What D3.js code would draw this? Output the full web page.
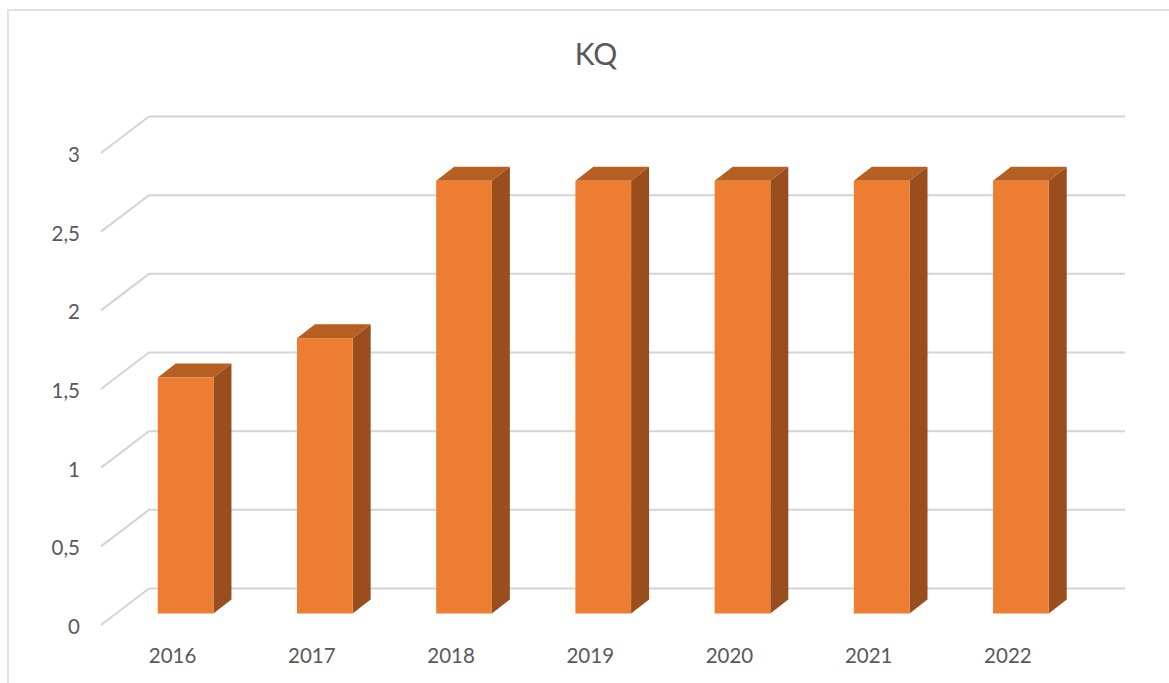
<!DOCTYPE html>
<html>
<head>
<meta charset="utf-8">
<script src="https://cdn.jsdelivr.net/npm/d3@7"></script>
<style>
  html, body { margin: 0; padding: 0; background: #fff; }
  svg { display: block; }
  text { font-family: Lato, "Open Sans", sans-serif; fill: #595959; }
</style>
</head>
<body>
<svg id="chart" width="1169" height="683"></svg>
<script>
const title = "KQ";
const categories = ["2016", "2017", "2018", "2019", "2020", "2021", "2022"];
const values = [1.5, 1.75, 2.75, 2.75, 2.75, 2.75, 2.75];
const yTicks = [0, 0.5, 1, 1.5, 2, 2.5, 3];

const svg = d3.select("#chart");
const W = 1169, H = 683;

// chart border
svg.append("rect")
  .attr("x", 8).attr("y", 10)
  .attr("width", W + 10).attr("height", H + 10)
  .attr("fill", "#fff").attr("stroke", "#d9d9d9").attr("stroke-width", 1.5);

// back wall scales
const x = d3.scaleBand().domain(categories).range([149, 1123.5]).paddingInner(0).paddingOuter(0);
const y = d3.scaleLinear().domain([0, 3]).range([588.5, 116.5]);

// depth offsets
const floorDX = -48, floorDY = 36.5;   // front edge of floor relative to back wall
const barFDX = -33, barFDY = 25;       // bar front face relative to back wall
const barDepthX = 18, barDepthY = -14; // bar back face relative to front face
const barW = x.bandwidth() / 2.5;

// gridlines
const grid = svg.append("g");
yTicks.forEach(v => {
  grid.append("path")
    .attr("d", `M${149 + floorDX},${y(v) + floorDY} L149,${y(v)} L1125,${y(v)}`)
    .attr("fill", "none").attr("stroke", "#d4d4d4").attr("stroke-width", 2);
});

// y labels
const fmt = d => String(d).replace(".", ",");
svg.append("g").selectAll("text").data(yTicks).join("text")
  .attr("x", 80).attr("y", d => y(d) + floorDY + 1)
  .attr("text-anchor", "end").attr("dominant-baseline", "central")
  .attr("font-size", 20.5)
  .text(fmt);

// bars
const bars = svg.append("g").selectAll("g").data(categories.map((c, i) => ({c, v: values[i]}))).join("g");
bars.each(function(d) {
  const g = d3.select(this);
  const x0 = x(d.c) + x.bandwidth() / 2 - barW / 2 + barFDX;
  const x1 = x0 + barW;
  const yb = y(0) + barFDY;
  const yt = y(d.v) + barFDY;
  // side
  g.append("path")
    .attr("d", `M${x1},${yt} L${x1 + barDepthX},${yt + barDepthY} L${x1 + barDepthX},${yb + barDepthY} L${x1},${yb} Z`)
    .attr("fill", "#9a4e1d");
  // top
  g.append("path")
    .attr("d", `M${x0},${yt} L${x0 + barDepthX},${yt + barDepthY} L${x1 + barDepthX},${yt + barDepthY} L${x1},${yt} Z`)
    .attr("fill", "#b65f22");
  // front
  g.append("rect")
    .attr("x", x0).attr("y", yt).attr("width", barW).attr("height", yb - yt)
    .attr("fill", "#ed7d31");
});

// x labels
svg.append("g").selectAll("text").data(categories).join("text")
  .attr("x", d => x(d) + x.bandwidth() / 2 + floorDX + 2)
  .attr("y", 663)
  .attr("text-anchor", "middle")
  .attr("font-size", 20.5)
  .text(d => d);

// title
svg.append("text")
  .attr("x", 596).attr("y", 65)
  .attr("text-anchor", "middle")
  .attr("font-size", 30)
  .text(title);
</script>
</body>
</html>
